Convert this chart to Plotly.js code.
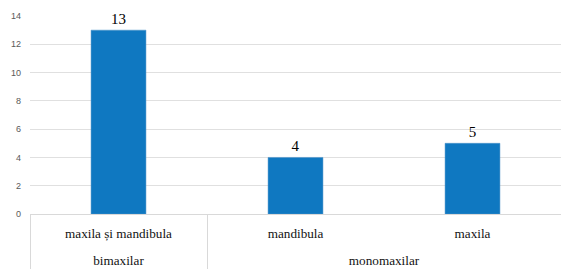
<!DOCTYPE html>
<html>
<head>
<meta charset="utf-8">
<script src="https://cdn.plot.ly/plotly-3.0.1.min.js"></script>
<style>html,body{margin:0;padding:0;background:#fff;}#chart{width:561px;height:270px;}</style>
</head>
<body>
<div id="chart"></div>
<script>
const groups = ["bimaxilar", "monomaxilar", "monomaxilar"];
const categories = ["maxila și mandibula", "mandibula", "maxila"];
const values = [13, 4, 5];
const yTicks = [0, 2, 4, 6, 8, 10, 12, 14];

const trace = {
  type: "bar",
  x: [groups, categories.map(c => c + "<br>&nbsp;")],
  y: values,
  text: values.map(String),
  textposition: "outside",
  cliponaxis: false,
  textfont: {family: "Liberation Serif, serif", size: 15, color: "#000"},
  marker: {color: "#0F78C1", line: {color: "#4a90c8", width: 0.5}},
  width: 0.31,
  hoverinfo: "none"
};

const layout = {
  width: 561, height: 270,
  margin: {l: 30, r: 0, t: 16, b: 56},
  paper_bgcolor: "#fff", plot_bgcolor: "#fff",
  showlegend: false,
  xaxis: {
    type: "multicategory",
    showline: true, linecolor: "#d9d9d9", linewidth: 1,
    showgrid: false, ticks: "",
    showdividers: true, dividercolor: "#d9d9d9", dividerwidth: 1,
    ticklabelstandoff: 7,
    tickfont: {family: "Liberation Serif, serif", size: 13.2, color: "#111"}
  },
  yaxis: {
    range: [0, 14], tickvals: yTicks, ticktext: yTicks.map(String),
    showgrid: true, gridcolor: "#e0e0e0", gridwidth: 1,
    zeroline: false, showline: false, ticks: "",
    tickfont: {family: "Liberation Sans, sans-serif", size: 9, color: "#595959"},
    ticklabelstandoff: 8
  }
};

Plotly.newPlot("chart", [trace], layout, {displayModeBar: false, staticPlot: true});
</script>
</body>
</html>
